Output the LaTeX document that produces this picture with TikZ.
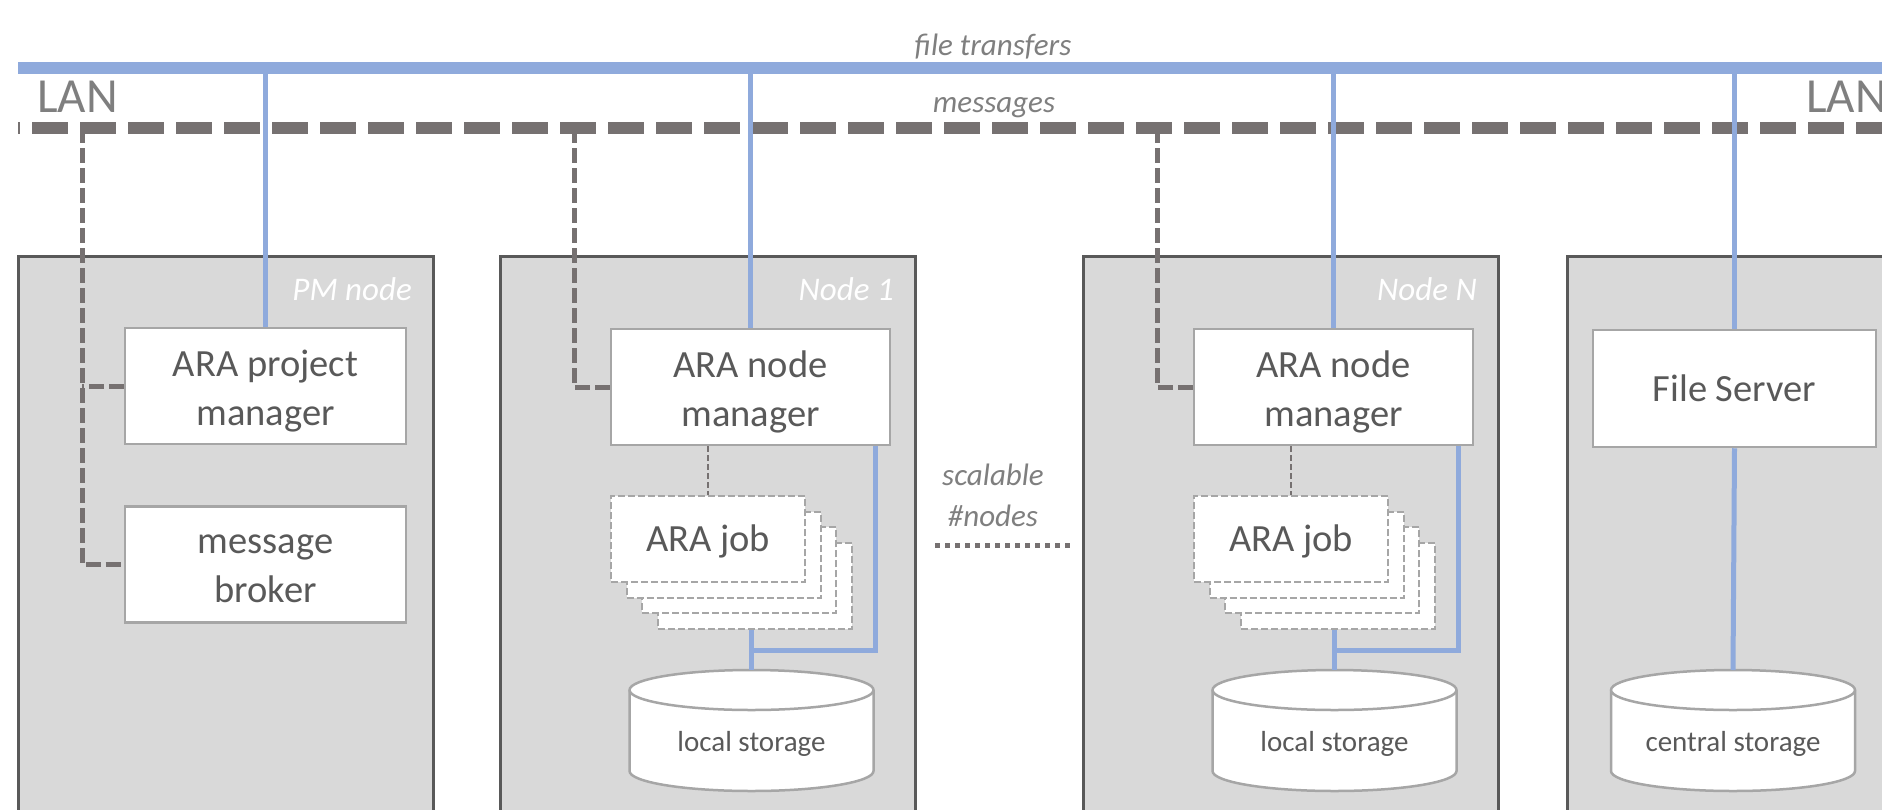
\documentclass[tikz,border=0pt]{standalone}
\usepackage{fontspec}
\setmainfont{Carlito}
\definecolor{bluec}{HTML}{8FAADC}
\definecolor{dashc}{HTML}{767171}
\definecolor{boxfill}{HTML}{D9D9D9}
\definecolor{outerc}{HTML}{595959}
\definecolor{innerc}{HTML}{A6A6A6}
\definecolor{textc}{HTML}{595959}
\definecolor{labc}{HTML}{7F7F7F}
\newcommand{\mainsz}{\fontsize{38.5pt}{49pt}\selectfont}
\newcommand{\storesz}{\fontsize{29pt}{35pt}\selectfont}
\newcommand{\labsz}{\fontsize{31pt}{41pt}\selectfont}
\newcommand{\nodesz}{\fontsize{33pt}{40pt}\selectfont}
\newcommand{\lansz}{\fontsize{49pt}{58pt}\selectfont}
\newcommand{\lstrut}{\rule[-4pt]{0pt}{41pt}}
\newcommand{\bstrut}{\rule[-11pt]{0pt}{41pt}}
\newcommand{\jstrut}{\rule[-5pt]{0pt}{36pt}}
\newcommand{\jobstack}[3]{%
  \node[jobbox] (#1d) at ({#2+47},{#3+47}) {};
  \node[jobbox] (#1c) at ({#2+31.4},{#3+31.4}) {};
  \node[jobbox] (#1b) at ({#2+15.7},{#3+15.7}) {};
  \node[jobbox] (#1) at (#2,#3) {ARA job\jstrut};
}
\newcommand{\storagecyl}[4]{%
  \filldraw[cyl] ({#2-122},{#3+20}) -- ({#2-122},{#3+101}) arc[start angle=180,end angle=0,x radius=122,y radius=20] -- ({#2+122},{#3+20}) arc[start angle=0,end angle=-180,x radius=122,y radius=20] -- cycle;
  \draw[cyl] ({#2-122},{#3+20}) arc[start angle=180,end angle=0,x radius=122,y radius=20];
  \coordinate (#1top) at (#2,#3);
  \node[storetext] (#1) at ({#2},{#3+74}) {#4};
}
\begin{document}
\begin{tikzpicture}[x=1pt,y=-1pt,
  outerbox/.style={draw=outerc, line width=2.5pt, fill=boxfill, anchor=north west, inner sep=0pt, minimum width=415pt, minimum height=600pt},
  inbox/.style={draw=innerc, line width=2.5pt, fill=white, inner sep=0pt, align=center, text=textc, font=\mainsz},
  jobbox/.style={draw=innerc, line width=2pt, dash pattern=on 7pt off 3pt, fill=white, inner sep=0pt, minimum width=194pt, minimum height=86pt, text=textc, font=\mainsz},
  cyl/.style={draw=innerc, line width=2.5pt, fill=white},
  storetext/.style={text=textc, font=\storesz, inner sep=0pt},
  nodelabel/.style={text=white, font=\nodesz\itshape, inner sep=0pt, anchor=base east},
  toplabel/.style={text=labc, font=\labsz\itshape, inner sep=0pt, anchor=base},
  lanlabel/.style={text=labc, font=\lansz, inner sep=0pt, anchor=base west},
  blueline/.style={draw=bluec, line width=5pt},
  bluebus/.style={draw=bluec, line width=12pt},
  msgbus/.style={draw=dashc, line width=12pt, dash pattern=on 36pt off 12pt, dash phase=34pt},
  msgline/.style={draw=dashc, line width=5pt, dash pattern=on 15pt off 5pt, line join=miter},
  jobconn/.style={draw=dashc, line width=2pt, dash pattern=on 6pt off 3pt},
  dotline/.style={draw=dashc, line width=5pt, dash pattern=on 5pt off 5pt}
]
\useasboundingbox (0,0) rectangle (1882,809);
\clip (0,0) rectangle (1882,809);
\fill[white] (0,0) rectangle (1882,809);

% outer machine boxes
\node[outerbox] (pmbox) at (17,255) {};
\node[outerbox] (n1box) at (499,255) {};
\node[outerbox] (nNbox) at (1082,255) {};
\node[outerbox] (fsbox) at (1566,255) {};

\node[nodelabel] (pmlab) at (412,300) {PM node};
\node[nodelabel] (n1lab) at (894,300) {Node 1};
\node[nodelabel] (nNlab) at (1477,300) {Node N};

% PM node
\node[inbox, minimum width=281pt, minimum height=116pt] (pm) at (265.5,386) {ARA project\lstrut\\manager\lstrut};
\node[inbox, minimum width=281pt, minimum height=116pt] (mb) at (265.5,564.5) {message\lstrut\\broker\bstrut};

% Node 1
\node[inbox, minimum width=279pt, minimum height=116pt] (nm1) at (750.5,387) {ARA node\lstrut\\manager\lstrut};
\jobstack{job1}{708}{539}
\storagecyl{ls1}{751.5}{670}{local storage}

% Node N
\node[inbox, minimum width=279pt, minimum height=116pt] (nmN) at (1333.5,387) {ARA node\lstrut\\manager\lstrut};
\jobstack{jobN}{1291}{539}
\storagecyl{lsN}{1334.5}{670}{local storage}

% File server
\node[inbox, minimum width=283pt, minimum height=117pt] (fs) at (1734.5,388.5) {File Server};
\storagecyl{cs}{1733}{670}{central storage}

% scalable
\node[toplabel, align=center, anchor=center] (scal) at (993,495) {scalable\\\#nodes};
\coordinate (dotA) at (935,545);
\coordinate (dotB) at (1072,545);
\draw[dotline] (dotA) -- (dotB);

% bus coordinates
\coordinate (busL) at (18,68);
\coordinate (busR) at (1900,68);
\coordinate (msgL) at (18,128);
\coordinate (msgR) at (1900,128);
\coordinate (pmdrop) at (82,128);
\coordinate (n1drop) at (574,128);
\coordinate (nNdrop) at (1157,128);
\coordinate (n1j) at (751.5,650);
\coordinate (nNj) at (1334.5,650);

% message lines
\draw[msgbus] (msgL) -- (msgR);
\draw[msgline] (pmdrop) |- (mb.west);
\draw[msgline] (pm.west) -- (pm.west -| pmdrop);
\draw[msgline] (n1drop) |- (nm1.west);
\draw[msgline] (nNdrop) |- (nmN.west);

% job connectors
\draw[jobconn] (nm1.south -| job1.north) -- (job1.north);
\draw[jobconn] (nmN.south -| jobN.north) -- (jobN.north);

% file transfer lines
\draw[blueline] (pm.north) -- (pm.north |- busL);
\draw[blueline] (nm1.north) -- (nm1.north |- busL);
\draw[blueline] (nmN.north) -- (nmN.north |- busL);
\draw[blueline] (fs.north) -- (fs.north |- busL);
\draw[blueline] (fs.south) -- (cstop);
\draw[blueline] ([xshift=-16pt]nm1.south east) |- (n1j);
\draw[blueline] (job1d.south -| ls1top) -- (ls1top);
\draw[blueline] ([xshift=-16pt]nmN.south east) |- (nNj);
\draw[blueline] (jobNd.south -| lsNtop) -- (lsNtop);
\draw[bluebus] (busL) -- (busR);

% labels
\node[toplabel] (ft) at (993,55) {file transfers};
\node[toplabel] (msg) at (994,112) {messages};
\node[lanlabel] (lanL) at (37,112) {LAN};
\node[lanlabel] (lanR) at (1806,112) {LAN};
\end{tikzpicture}
\end{document}
